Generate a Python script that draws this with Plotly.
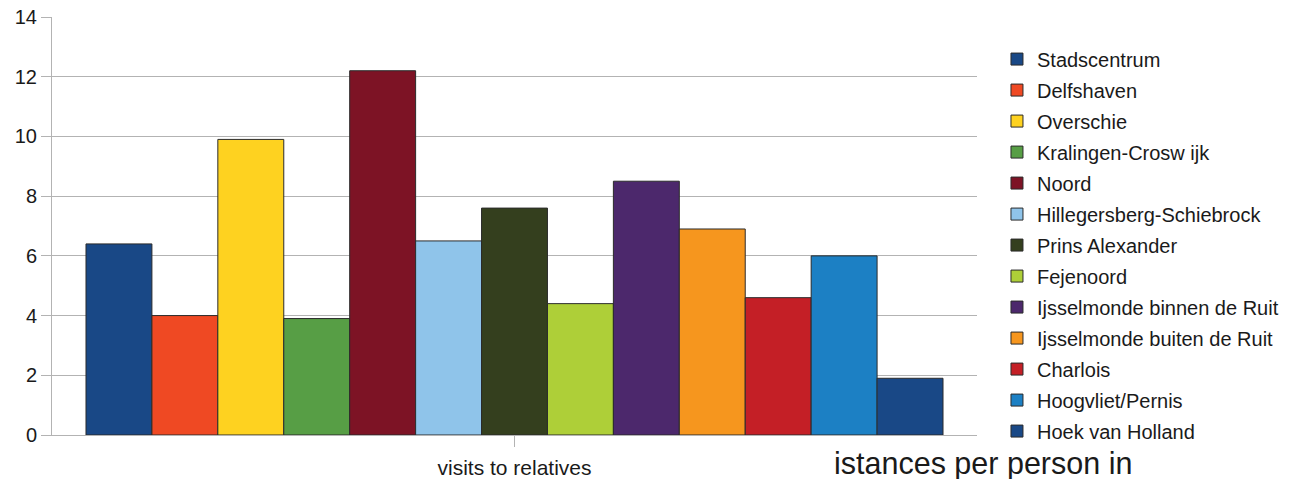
import plotly.graph_objects as go

categories = ["visits to relatives"]
districts = ["Stadscentrum", "Delfshaven", "Overschie", "Kralingen-Crosw ijk", "Noord",
             "Hillegersberg-Schiebrock", "Prins Alexander", "Fejenoord",
             "Ijsselmonde binnen de Ruit", "Ijsselmonde buiten de Ruit", "Charlois",
             "Hoogvliet/Pernis", "Hoek van Holland"]
values = [6.4, 4.0, 9.9, 3.9, 12.2, 6.5, 7.6, 4.4, 8.5, 6.9, 4.6, 6.0, 1.9]
colors = ["#194886", "#ef4923", "#fed220", "#579e45", "#7d1325", "#8fc4ea", "#343f1e",
          "#aecf38", "#4c286c", "#f6961e", "#c41f26", "#1c80c4", "#194886"]
y_ticks = [0, 2, 4, 6, 8, 10, 12, 14]

fig = go.Figure()
for i, (name, v, c) in enumerate(zip(districts, values, colors)):
    fig.add_trace(go.Bar(x=categories, y=[v], name=name, marker_color=c,
                         marker_line=dict(color="#2b2b2b", width=1),
                         legendgroup=str(i)))

fig.update_layout(
    width=1290, height=479,
    margin=dict(l=52, r=313, t=17, b=44, autoexpand=False),
    paper_bgcolor="white", plot_bgcolor="white",
    barmode="group", bargap=0.0735, bargroupgap=0,
    font=dict(family="Liberation Sans, Arial, sans-serif", color="#1a1a1a"),
    showlegend=True,
    legend=dict(x=1.0216, y=0.946, xanchor="left", yanchor="top",
                font=dict(size=20), tracegroupgap=2, traceorder="grouped",
                bgcolor="rgba(0,0,0,0)"),
    xaxis=dict(showline=True, linecolor="#b3b3b3", linewidth=1, mirror=False,
               ticks="outside", ticklen=11, tickcolor="#b3b3b3",
               tickfont=dict(size=21), ticklabelstandoff=3, fixedrange=True),
    yaxis=dict(range=[0, 14], tickvals=y_ticks, showgrid=True, gridcolor="#b3b3b3",
               showline=True, linecolor="#b3b3b3", ticks="outside", ticklen=10,
               tickcolor="#b3b3b3", tickfont=dict(size=20), zeroline=False),
    annotations=[dict(text="istances per person in", xref="paper", yref="paper",
                      x=(832 - 52) / 925, y=-0.022, xanchor="left", yanchor="top",
                      showarrow=False, font=dict(size=30.5, color="#1a1a1a"))],
)
fig.write_html("out.html", config={"displayModeBar": False},
               post_script="document.body.style.margin='0';")
